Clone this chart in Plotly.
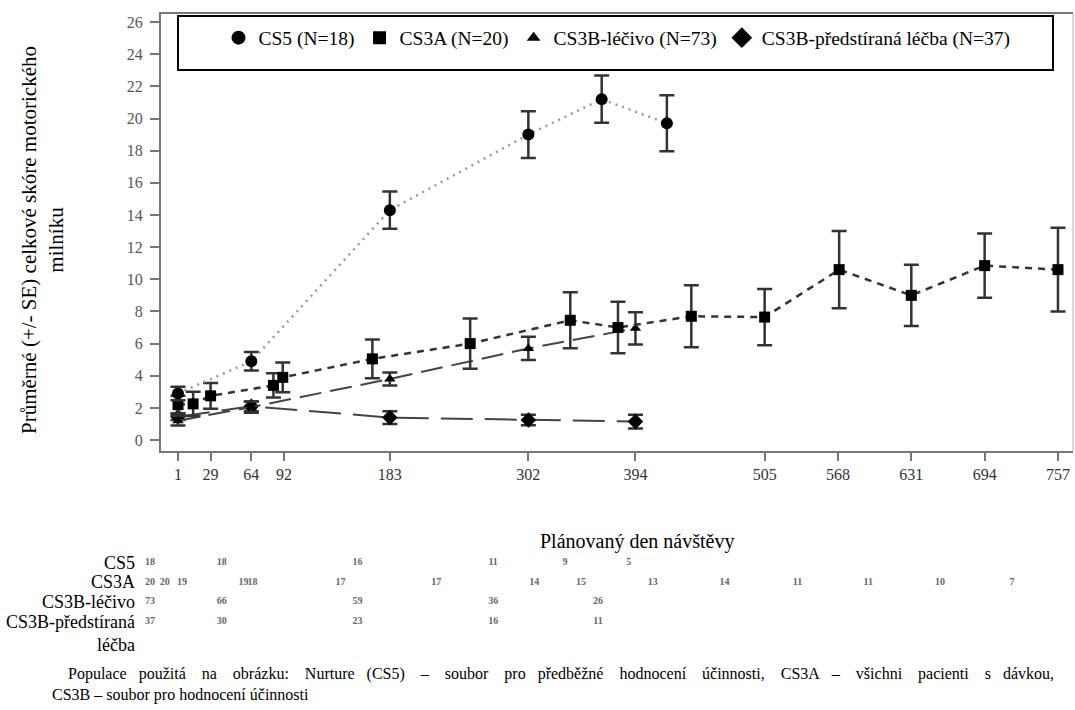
import plotly.graph_objects as go

FONT = "Liberation Serif"

# ---------------- data ----------------
tick_days = [1, 29, 64, 92, 183, 302, 394, 505, 568, 631, 694, 757]
y_ticks = list(range(0, 27, 2))

cs5_day = [1, 64, 183, 302, 365, 421]
cs5_mean = [2.9, 4.9, 14.3, 19.0, 21.2, 19.7]
cs5_se = [0.42, 0.57, 1.16, 1.45, 1.47, 1.74]
cs5_n = [18, 18, 16, 11, 9, 5]

cs3a_day = [1, 14, 29, 83, 91, 168, 252, 338, 379, 442, 505, 569, 631, 694, 757]
cs3a_mean = [2.2, 2.25, 2.75, 3.4, 3.9, 5.05, 6.0, 7.45, 7.0, 7.7, 7.65, 10.6, 9.0, 10.85, 10.6]
cs3a_se = [0.55, 0.75, 0.8, 0.75, 0.93, 1.2, 1.56, 1.74, 1.6, 1.93, 1.75, 2.4, 1.9, 2.0, 2.6]
cs3a_n = [20, 20, 19, 19, 18, 17, 17, 14, 15, 13, 14, 11, 11, 10, 7]

cs3b_drug_day = [1, 64, 183, 302, 394]
cs3b_drug_mean = [1.2, 2.05, 3.8, 5.7, 6.95]
cs3b_drug_se = [0.3, 0.35, 0.4, 0.72, 1.0]
cs3b_drug_n = [73, 66, 59, 36, 26]

cs3b_sham_day = [1, 64, 183, 302, 394]
cs3b_sham_mean = [1.45, 2.1, 1.4, 1.25, 1.15]
cs3b_sham_se = [0.2, 0.3, 0.4, 0.33, 0.43]
cs3b_sham_n = [37, 30, 23, 16, 11]

legend_names = ["CS5 (N=18)", "CS3A (N=20)", "CS3B-léčivo (N=73)", "CS3B-předstíraná léčba (N=37)"]
row_labels = ["CS5", "CS3A", "CS3B-léčivo", "CS3B-předstíraná<br>léčba"]

y_title = "Průměrné (+/- SE) celkové skóre motorického<br>milníku"
x_title = "Plánovaný den návštěvy"
footnote_line1 = ["Populace", "použitá", "na", "obrázku:", "Nurture", "(CS5)", "–", "soubor", "pro",
                  "předběžné", "hodnocení", "účinnosti,", "CS3A", "–", "všichni", "pacienti", "s", "dávkou,"]
footnote_line2 = "CS3B – soubor pro hodnocení účinnosti"

# ---------------- helpers ----------------
L_MARGIN, R_MARGIN, T_MARGIN, B_MARGIN = 140, 2, 14, 10
W, H = 1075, 710
PW = W - L_MARGIN - R_MARGIN
PH = H - T_MARGIN - B_MARGIN


def px_x(px):
    return (px - L_MARGIN) / PW


def px_y(py):
    return (H - B_MARGIN - py) / PH


# justified first footnote line (extra word spacing as in the source document)
NB = "&nbsp;"
gaps = [NB * (4 if i % 4 else 3) for i in range(len(footnote_line1) - 1)]
line1 = NB * 4 + footnote_line1[0]
for g, w in zip(gaps, footnote_line1[1:]):
    line1 += g + w
footnote = line1 + "<br>" + footnote_line2

# ---------------- figure ----------------
fig = go.Figure()

series = [
    (cs3b_sham_day, cs3b_sham_mean, cs3b_sham_se, "diamond", 12, "32px,12px", "#444", 2),
    (cs3b_drug_day, cs3b_drug_mean, cs3b_drug_se, "triangle-up", 10, "22px,9px", "#444", 2),
    (cs3a_day, cs3a_mean, cs3a_se, "square", 11, "7px,6px", "#333", 2.5),
    (cs5_day, cs5_mean, cs5_se, "circle", 12, "2px,5px", "#999", 2.5),
]
for d, m, s, sym, ms, dash, lc, lw in series:
    fig.add_trace(go.Scatter(
        x=d, y=m, mode="lines+markers", showlegend=False, cliponaxis=False,
        line=dict(color=lc, width=lw, dash=dash),
        marker=dict(symbol=sym, size=ms, color="black"),
        error_y=dict(type="data", array=s, visible=True, color="#333", thickness=2.5, width=7.5),
    ))

# legend-only entries (markers only)
for name, sym, ms in zip(legend_names, ["circle", "square", "triangle-up", "diamond"], [14, 13, 12, 16]):
    fig.add_trace(go.Scatter(x=[None], y=[None], mode="markers", name=name,
                             marker=dict(symbol=sym, size=ms, color="black")))

# at-risk table
for row, (d, n) in enumerate([(cs5_day, cs5_n), (cs3a_day, cs3a_n),
                              (cs3b_drug_day, cs3b_drug_n), (cs3b_sham_day, cs3b_sham_n)]):
    fig.add_trace(go.Scatter(
        x=d, y=[row] * len(d), mode="text", text=[str(v) for v in n],
        textfont=dict(family=FONT, size=10, color="#666", weight="bold"),
        xaxis="x2", yaxis="y2", showlegend=False, cliponaxis=False, hoverinfo="skip"))

annotations = []
for row, lab in enumerate(row_labels):
    two = "<br>" in lab
    annotations.append(dict(
        text=lab, xref="paper", yref="y2", x=px_x(137), y=row, xanchor="right",
        yanchor="top" if two else "middle", yshift=11 if two else 0,
        align="right", showarrow=False, font=dict(family=FONT, size=18, color="black")))

annotations.append(dict(text=y_title, xref="paper", yref="paper", x=px_x(42), y=px_y(240),
                        xanchor="center", yanchor="middle",
                        textangle=-90, showarrow=False, align="center",
                        font=dict(family=FONT, size=21, color="black")))
annotations.append(dict(text=x_title, xref="paper", yref="paper", x=px_x(637), y=px_y(541),
                        xanchor="center", yanchor="middle",
                        showarrow=False, font=dict(family=FONT, size=20, color="black")))
annotations.append(dict(text=footnote, xref="paper", yref="paper", x=px_x(50), y=px_y(684),
                        xanchor="left", yanchor="middle", align="left", showarrow=False,
                        font=dict(family=FONT, size=16, color="black")))

shapes = [
    dict(type="rect", xref="paper", yref="paper", x0=px_x(178), x1=px_x(1053),
         y0=px_y(70), y1=px_y(16),
         line=dict(color="black", width=2), fillcolor="rgba(0,0,0,0)"),
    dict(type="line", xref="paper", yref="paper", x0=1, x1=1, y0=px_y(451), y1=1,
         line=dict(color="#ccc", width=1.5)),
]

fig.update_layout(
    width=W, height=H,
    margin=dict(l=L_MARGIN, r=R_MARGIN, t=T_MARGIN, b=B_MARGIN),
    paper_bgcolor="white", plot_bgcolor="white",
    font=dict(family=FONT),
    showlegend=True,
    legend=dict(orientation="h", x=px_x(617), xanchor="center", y=px_y(38), yanchor="middle",
                font=dict(family=FONT, size=19.5, color="black"), bgcolor="rgba(0,0,0,0)",
                borderwidth=0),
    xaxis=dict(domain=[px_x(161), 1], anchor="y", range=[-13.6, 769.9], tickvals=tick_days,
               ticks="outside", ticklen=8, tickwidth=2, tickcolor="#777",
               showline=True, linecolor="#777", linewidth=2, mirror=True,
               showgrid=False, zeroline=False,
               tickfont=dict(family=FONT, size=16, color="#333")),
    yaxis=dict(domain=[px_y(451), 1], anchor="x", range=[-0.68, 26.5], tickvals=y_ticks,
               ticks="outside", ticklen=9, tickwidth=2, tickcolor="#777",
               showline=True, linecolor="#777", linewidth=2,
               showgrid=False, zeroline=False, ticklabelstandoff=4,
               tickfont=dict(family=FONT, size=16, color="#555")),
    xaxis2=dict(domain=[0, 1], anchor="y2", range=[-7.77, 810.6], visible=False),
    yaxis2=dict(domain=[px_y(630.7), px_y(553.3)], anchor="x2", range=[3.5, -0.5], visible=False),
    annotations=annotations,
    shapes=shapes,
)

# the page's default 8px body margin would shift the 1075x710 figure; remove it
fig.write_html("out.html", config={"displayModeBar": False},
               post_script="document.body.style.margin='0px';")
